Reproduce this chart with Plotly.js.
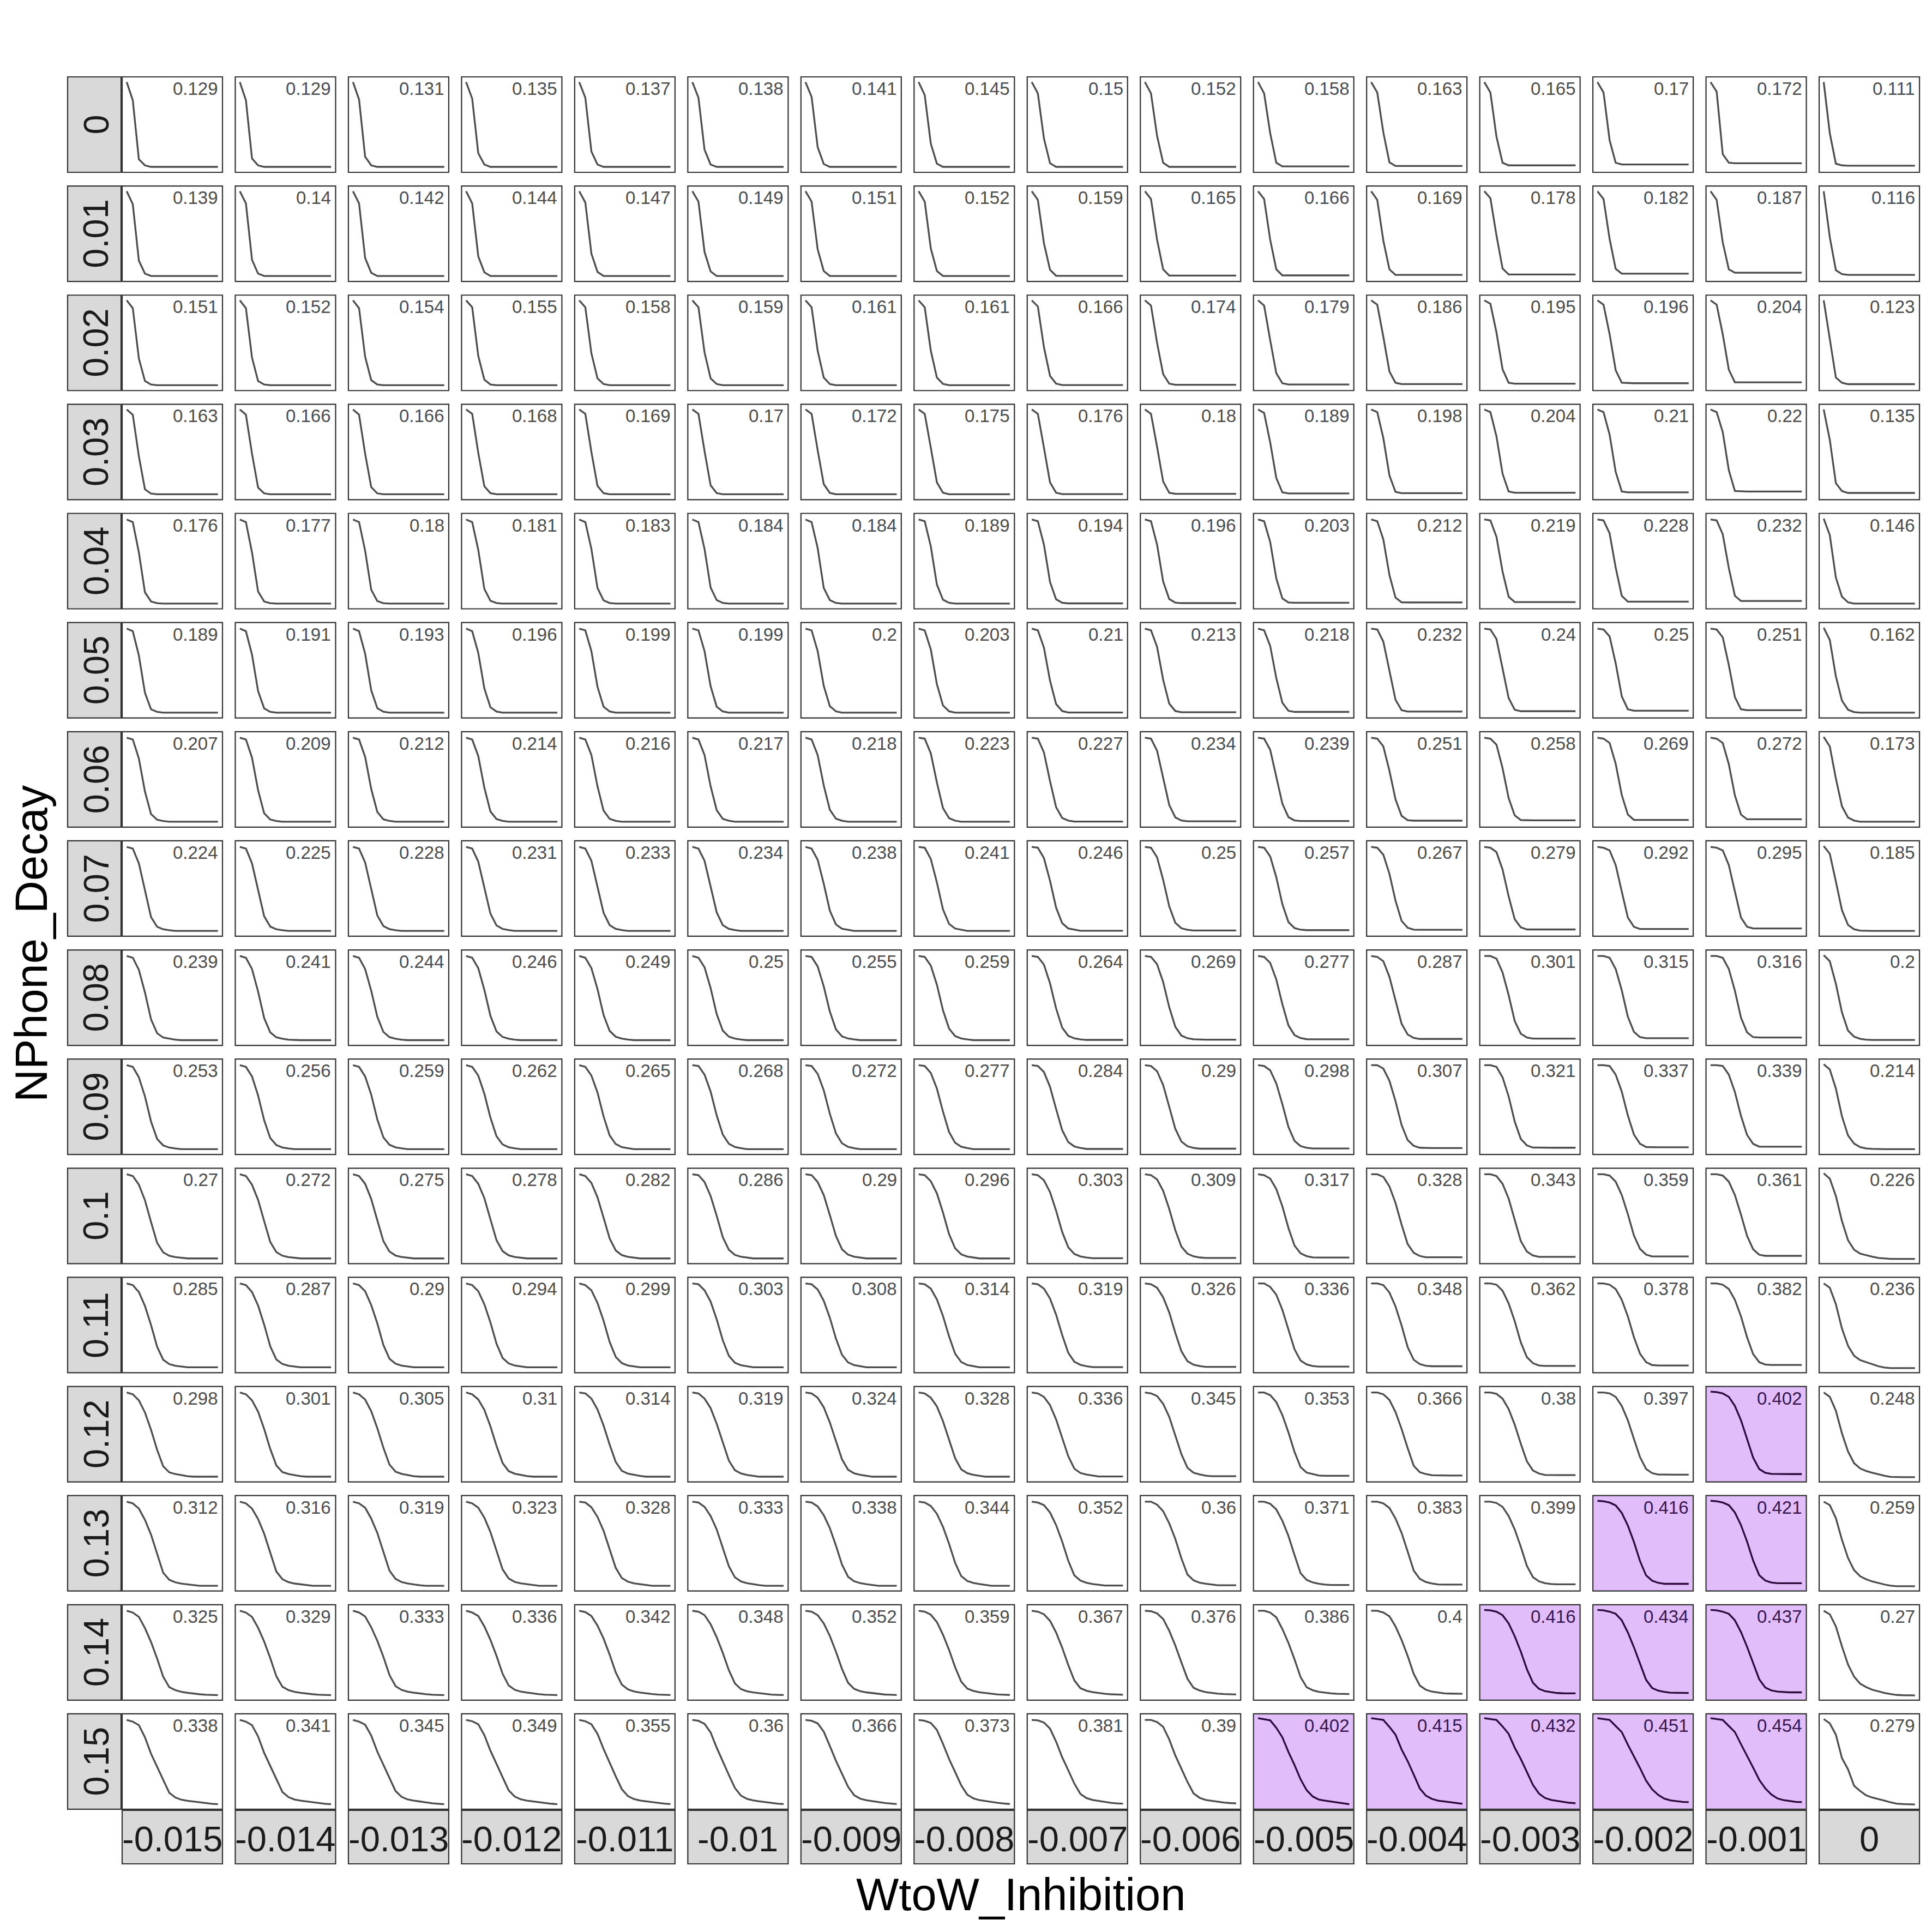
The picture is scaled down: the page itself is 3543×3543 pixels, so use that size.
<!DOCTYPE html>
<html><head><meta charset="utf-8">
<script src="https://cdn.plot.ly/plotly-3.0.1.min.js"></script>
<style>html,body{margin:0;padding:0;background:#fff}#chart{width:3543px;height:3543px}</style>
</head><body><div id="chart"></div>
<script>
// time steps along each small curve
const steps = [0,1,2,3,4,5,6,7,8,9,10,11,12,13,14,15];
// column facets (bottom strips)
const wtowInhibition = ["-0.015","-0.014","-0.013","-0.012","-0.011","-0.01","-0.009","-0.008","-0.007","-0.006","-0.005","-0.004","-0.003","-0.002","-0.001","0"];
// row facets (left strips)
const nphoneDecay = ["0","0.01","0.02","0.03","0.04","0.05","0.06","0.07","0.08","0.09","0.1","0.11","0.12","0.13","0.14","0.15"];
// number printed in each panel (rows = NPhone_Decay, cols = WtoW_Inhibition)
const panelMeans = [
[0.129,0.129,0.131,0.135,0.137,0.138,0.141,0.145,0.15,0.152,0.158,0.163,0.165,0.17,0.172,0.111],
[0.139,0.14,0.142,0.144,0.147,0.149,0.151,0.152,0.159,0.165,0.166,0.169,0.178,0.182,0.187,0.116],
[0.151,0.152,0.154,0.155,0.158,0.159,0.161,0.161,0.166,0.174,0.179,0.186,0.195,0.196,0.204,0.123],
[0.163,0.166,0.166,0.168,0.169,0.17,0.172,0.175,0.176,0.18,0.189,0.198,0.204,0.21,0.22,0.135],
[0.176,0.177,0.18,0.181,0.183,0.184,0.184,0.189,0.194,0.196,0.203,0.212,0.219,0.228,0.232,0.146],
[0.189,0.191,0.193,0.196,0.199,0.199,0.2,0.203,0.21,0.213,0.218,0.232,0.24,0.25,0.251,0.162],
[0.207,0.209,0.212,0.214,0.216,0.217,0.218,0.223,0.227,0.234,0.239,0.251,0.258,0.269,0.272,0.173],
[0.224,0.225,0.228,0.231,0.233,0.234,0.238,0.241,0.246,0.25,0.257,0.267,0.279,0.292,0.295,0.185],
[0.239,0.241,0.244,0.246,0.249,0.25,0.255,0.259,0.264,0.269,0.277,0.287,0.301,0.315,0.316,0.2],
[0.253,0.256,0.259,0.262,0.265,0.268,0.272,0.277,0.284,0.29,0.298,0.307,0.321,0.337,0.339,0.214],
[0.27,0.272,0.275,0.278,0.282,0.286,0.29,0.296,0.303,0.309,0.317,0.328,0.343,0.359,0.361,0.226],
[0.285,0.287,0.29,0.294,0.299,0.303,0.308,0.314,0.319,0.326,0.336,0.348,0.362,0.378,0.382,0.236],
[0.298,0.301,0.305,0.31,0.314,0.319,0.324,0.328,0.336,0.345,0.353,0.366,0.38,0.397,0.402,0.248],
[0.312,0.316,0.319,0.323,0.328,0.333,0.338,0.344,0.352,0.36,0.371,0.383,0.399,0.416,0.421,0.259],
[0.325,0.329,0.333,0.336,0.342,0.348,0.352,0.359,0.367,0.376,0.386,0.4,0.416,0.434,0.437,0.27],
[0.338,0.341,0.345,0.349,0.355,0.36,0.366,0.373,0.381,0.39,0.402,0.415,0.432,0.451,0.454,0.279]
];
// curve values (percent) read per panel, one array per NPhone_Decay row
const curvesDecay000 = [
[99,78,10,3,1.3,1.3,1.3,1.3,1.3,1.3,1.3,1.3,1.3,1.3,1.3,1.3],
[99,78,11,3,1.3,1.3,1.3,1.3,1.3,1.3,1.3,1.3,1.3,1.3,1.3,1.3],
[99,79,13,3,1.3,1.3,1.3,1.3,1.3,1.3,1.3,1.3,1.3,1.3,1.3,1.3],
[99,80,17,4,1.3,1.3,1.3,1.3,1.3,1.3,1.3,1.3,1.3,1.3,1.3,1.3],
[99,81,19,4,1.3,1.3,1.3,1.3,1.3,1.3,1.3,1.3,1.3,1.3,1.3,1.3],
[99,81,21,4,1.3,1.3,1.3,1.3,1.3,1.3,1.3,1.3,1.3,1.3,1.3,1.3],
[99,82,24,4.5,1.3,1.3,1.3,1.3,1.3,1.3,1.3,1.3,1.3,1.3,1.3,1.3],
[99,84,28,5,1.3,1.3,1.3,1.3,1.3,1.3,1.3,1.3,1.3,1.3,1.3,1.3],
[99,86,34,5.5,1.3,1.3,1.3,1.3,1.3,1.3,1.3,1.3,1.3,1.3,1.3,1.3],
[99,86,37,6,1.3,1.3,1.3,1.3,1.3,1.3,1.3,1.3,1.3,1.3,1.3,1.3],
[99,86,40,6,1.8,1.8,1.8,1.8,1.8,1.8,1.8,1.8,1.8,1.8,1.8,1.8],
[99,87,41,6.5,2.3,2.3,2.3,2.3,2.3,2.3,2.3,2.3,2.3,2.3,2.3,2.3],
[99,87,36,6,3,3,3,3,3,3,3,3,3,3,3,3],
[99,87,32,6,4,4,4,4,4,4,4,4,4,4,4,4],
[99,88,16,6,5.5,5.5,5.5,5.5,5.5,5.5,5.5,5.5,5.5,5.5,5.5,5.5],
[99,40,5,3,2.6,2.6,2.6,2.6,2.6,2.6,2.6,2.6,2.6,2.6,2.6,2.6]
];
const curvesDecay001 = [
[99,84,19,4,1.3,1.3,1.3,1.3,1.3,1.3,1.3,1.3,1.3,1.3,1.3,1.3],
[99,85,20,4,1.3,1.3,1.3,1.3,1.3,1.3,1.3,1.3,1.3,1.3,1.3,1.3],
[99,85,22,5,1.3,1.3,1.3,1.3,1.3,1.3,1.3,1.3,1.3,1.3,1.3,1.3],
[99,85,24,5.5,1.3,1.3,1.3,1.3,1.3,1.3,1.3,1.3,1.3,1.3,1.3,1.3],
[99,86,27,6,1.3,1.3,1.3,1.3,1.3,1.3,1.3,1.3,1.3,1.3,1.3,1.3],
[99,87,29,6.5,1.3,1.3,1.3,1.3,1.3,1.3,1.3,1.3,1.3,1.3,1.3,1.3],
[99,87,32,7,1.3,1.3,1.3,1.3,1.3,1.3,1.3,1.3,1.3,1.3,1.3,1.3],
[99,87,33,7,1.3,1.3,1.3,1.3,1.3,1.3,1.3,1.3,1.3,1.3,1.3,1.3],
[99,89,39,8.5,1.5,1.5,1.5,1.5,1.5,1.5,1.5,1.5,1.5,1.5,1.5,1.5],
[99,90,43,9,1.8,1.8,1.8,1.8,1.8,1.8,1.8,1.8,1.8,1.8,1.8,1.8],
[99,90,43,9,2,2,2,2,2,2,2,2,2,2,2,2],
[99,89,42,9,2.5,2.5,2.5,2.5,2.5,2.5,2.5,2.5,2.5,2.5,2.5,2.5],
[99,91,48,10,3,3,3,3,3,3,3,3,3,3,3,3],
[99,90,44,9.5,4,4,4,4,4,4,4,4,4,4,4,4],
[99,89,40,9,5,5,5,5,5,5,5,5,5,5,5,5],
[99,46,8,3.5,2.5,2.5,2.5,2.5,2.5,2.5,2.5,2.5,2.5,2.5,2.5,2.5]
];
const curvesDecay002 = [
[99,90,32,6,2,1.2,1.2,1.2,1.2,1.2,1.2,1.2,1.2,1.2,1.2,1.2],
[99,90,33,6,2,1.2,1.2,1.2,1.2,1.2,1.2,1.2,1.2,1.2,1.2,1.2],
[99,90,34,7,2,1.2,1.2,1.2,1.2,1.2,1.2,1.2,1.2,1.2,1.2,1.2],
[99,91,35,7.5,2,1.2,1.2,1.2,1.2,1.2,1.2,1.2,1.2,1.2,1.2,1.2],
[99,91,38,9,2.5,1.2,1.2,1.2,1.2,1.2,1.2,1.2,1.2,1.2,1.2,1.2],
[99,91,39,9,2.5,1.2,1.2,1.2,1.2,1.2,1.2,1.2,1.2,1.2,1.2,1.2],
[99,91,41,10,2.5,1.2,1.2,1.2,1.2,1.2,1.2,1.2,1.2,1.2,1.2,1.2],
[99,91,41,10,2.7,1.2,1.2,1.2,1.2,1.2,1.2,1.2,1.2,1.2,1.2,1.2],
[99,92,45,12,3,1.4,1.4,1.4,1.4,1.4,1.4,1.4,1.4,1.4,1.4,1.4],
[99,93,50,14,3,1.7,1.7,1.7,1.7,1.7,1.7,1.7,1.7,1.7,1.7,1.7],
[99,93,53,15,3.5,2,2,2,2,2,2,2,2,2,2,2],
[99,94,57,17,4,2.5,2.5,2.5,2.5,2.5,2.5,2.5,2.5,2.5,2.5,2.5],
[99,95,62,19.5,4,3,3,3,3,3,3,3,3,3,3,3],
[99,94,60,18.5,4,3.5,3.5,3.5,3.5,3.5,3.5,3.5,3.5,3.5,3.5,3.5],
[99,94,60,19,4.5,4.5,4.5,4.5,4.5,4.5,4.5,4.5,4.5,4.5,4.5,4.5],
[99,55,10,4,2.4,2.4,2.4,2.4,2.4,2.4,2.4,2.4,2.4,2.4,2.4,2.4]
];
const curvesDecay003 = [
[99,93,45,7,2,1.3,1.3,1.3,1.3,1.3,1.3,1.3,1.3,1.3,1.3,1.3],
[99,93,48,9,2.3,1.3,1.3,1.3,1.3,1.3,1.3,1.3,1.3,1.3,1.3,1.3],
[99,93,48,9.5,2.3,1.3,1.3,1.3,1.3,1.3,1.3,1.3,1.3,1.3,1.3,1.3],
[99,94,49,10.5,2.5,1.3,1.3,1.3,1.3,1.3,1.3,1.3,1.3,1.3,1.3,1.3],
[99,94,50,11,2.5,1.3,1.3,1.3,1.3,1.3,1.3,1.3,1.3,1.3,1.3,1.3],
[99,94,51,11.5,2.6,1.3,1.3,1.3,1.3,1.3,1.3,1.3,1.3,1.3,1.3,1.3],
[99,94,52,13,2.8,1.3,1.3,1.3,1.3,1.3,1.3,1.3,1.3,1.3,1.3,1.3],
[99,94,55,15,3,1.3,1.3,1.3,1.3,1.3,1.3,1.3,1.3,1.3,1.3,1.3],
[99,94,55,15,3,1.5,1.5,1.5,1.5,1.5,1.5,1.5,1.5,1.5,1.5,1.5],
[99,94,56,16,3,1.8,1.8,1.8,1.8,1.8,1.8,1.8,1.8,1.8,1.8,1.8],
[99,95,61,20,3.5,2.2,2.2,2.2,2.2,2.2,2.2,2.2,2.2,2.2,2.2,2.2],
[99,96,66,23,4,2.6,2.6,2.6,2.6,2.6,2.6,2.6,2.6,2.6,2.6,2.6],
[99,96,68,25,4.5,3,3,3,3,3,3,3,3,3,3,3],
[99,96,70,27,4.5,3.5,3.5,3.5,3.5,3.5,3.5,3.5,3.5,3.5,3.5,3.5],
[99,96,73,29,5,4.5,4.5,4.5,4.5,4.5,4.5,4.5,4.5,4.5,4.5,4.5],
[99,64,14,5,2.8,2.8,2.8,2.8,2.8,2.8,2.8,2.8,2.8,2.8,2.8,2.8]
];
const curvesDecay004 = [
[98,95,60,14,3.5,1.5,1,1,1,1,1,1,1,1,1,1],
[98,95,60,15,3.5,1.5,1,1,1,1,1,1,1,1,1,1],
[98,95,62,17,4,1.6,1,1,1,1,1,1,1,1,1,1],
[98,95,63,18,4.3,1.7,1,1,1,1,1,1,1,1,1,1],
[98,95,64,19,4.7,1.7,1,1,1,1,1,1,1,1,1,1],
[98,95,64,19.5,5,1.8,1,1,1,1,1,1,1,1,1,1],
[98,95,65,19,5,1.8,1,1,1,1,1,1,1,1,1,1],
[98,96,67,23,5.5,2,1,1,1,1,1,1,1,1,1,1],
[98,96,69,26,6,2,1.3,1.3,1.3,1.3,1.3,1.3,1.3,1.3,1.3,1.3],
[98,96,69,26.5,6.3,2.2,1.6,1.6,1.6,1.6,1.6,1.6,1.6,1.6,1.6,1.6],
[98,96,72,30,7,2.3,2,2,2,2,2,2,2,2,2,2],
[98,96,75,34,8,2.5,2.4,2.4,2.4,2.4,2.4,2.4,2.4,2.4,2.4,2.4],
[98,97,78,38,9,2.8,2.8,2.8,2.8,2.8,2.8,2.8,2.8,2.8,2.8,2.8],
[98,97,82,42.5,10,3.3,3.3,3.3,3.3,3.3,3.3,3.3,3.3,3.3,3.3,3.3],
[98,97,81,42,10,4,4,4,4,4,4,4,4,4,4,4],
[99,80,31,9,2.5,1,1,1,1,1,1,1,1,1,1,1]
];
const curvesDecay005 = [
[98,95,67,24,5,2,1.1,1.1,1.1,1.1,1.1,1.1,1.1,1.1,1.1,1.1],
[98,95,68,26,6,2,1.1,1.1,1.1,1.1,1.1,1.1,1.1,1.1,1.1,1.1],
[98,95,69,27,6.3,2.2,1.1,1.1,1.1,1.1,1.1,1.1,1.1,1.1,1.1,1.1],
[98,95,70,29,7.3,2.4,1.1,1.1,1.1,1.1,1.1,1.1,1.1,1.1,1.1,1.1],
[98,96,72,31,8,2.5,1.1,1.1,1.1,1.1,1.1,1.1,1.1,1.1,1.1,1.1],
[98,96,72,31.5,8,2.5,1.1,1.1,1.1,1.1,1.1,1.1,1.1,1.1,1.1,1.1],
[98,96,72,32,8.6,2.6,1.1,1.1,1.1,1.1,1.1,1.1,1.1,1.1,1.1,1.1],
[98,96,74,34,9.5,2.7,1.1,1.1,1.1,1.1,1.1,1.1,1.1,1.1,1.1,1.1],
[98,96,76,38,11,3,1.3,1.3,1.3,1.3,1.3,1.3,1.3,1.3,1.3,1.3],
[98,96,77,39,11.5,3,1.6,1.6,1.6,1.6,1.6,1.6,1.6,1.6,1.6,1.6],
[98,96,78,41,12.5,3.2,2,2,2,2,2,2,2,2,2,2],
[98,97,83,49,16,4,2.4,2.4,2.4,2.4,2.4,2.4,2.4,2.4,2.4,2.4],
[98,97,86,53,18,4.5,2.8,2.8,2.8,2.8,2.8,2.8,2.8,2.8,2.8,2.8],
[98,97,89,58,20,5,3.3,3.3,3.3,3.3,3.3,3.3,3.3,3.3,3.3,3.3],
[98,97,88,56,19,5,4,4,4,4,4,4,4,4,4,4],
[99,85,43,15,4.5,1.8,1.1,1.1,1.1,1.1,1.1,1.1,1.1,1.1,1.1,1.1]
];
const curvesDecay006 = [
[98,96,74,36,10,3.5,2,1.2,1.2,1.2,1.2,1.2,1.2,1.2,1.2,1.2],
[98,96,75,37.5,11,3.8,2,1.2,1.2,1.2,1.2,1.2,1.2,1.2,1.2,1.2],
[98,96,76,39,12.5,4,2.1,1.2,1.2,1.2,1.2,1.2,1.2,1.2,1.2,1.2],
[98,96,77,40.5,13,4.3,2.2,1.2,1.2,1.2,1.2,1.2,1.2,1.2,1.2,1.2],
[98,96,78,42,14,4.5,2.2,1.2,1.2,1.2,1.2,1.2,1.2,1.2,1.2,1.2],
[98,96,78,42,14.5,4.5,2.3,1.2,1.2,1.2,1.2,1.2,1.2,1.2,1.2,1.2],
[98,96,78,43,15,4.7,2.3,1.2,1.2,1.2,1.2,1.2,1.2,1.2,1.2,1.2],
[98,97,80,46.5,17,5.3,2.4,1.2,1.2,1.2,1.2,1.2,1.2,1.2,1.2,1.2],
[98,97,81,48,18,5.6,2.5,1.4,1.4,1.4,1.4,1.4,1.4,1.4,1.4,1.4],
[98,97,83,51.5,20.5,6.2,2.6,1.7,1.7,1.7,1.7,1.7,1.7,1.7,1.7,1.7],
[98,97,84,53,22,6.5,2.7,2,2,2,2,2,2,2,2,2],
[98,97,88,60,27,8,3,2.4,2.4,2.4,2.4,2.4,2.4,2.4,2.4,2.4],
[98,97,90,63,28.5,8.5,3.1,2.8,2.8,2.8,2.8,2.8,2.8,2.8,2.8,2.8],
[98,97,92,68,32,9.5,3.3,3.3,3.3,3.3,3.3,3.3,3.3,3.3,3.3,3.3],
[98,97,92,67.5,31.5,9.4,4,4,4,4,4,4,4,4,4,4],
[99,88,51,19,6,2.5,1.2,1.2,1.2,1.2,1.2,1.2,1.2,1.2,1.2,1.2]
];
const curvesDecay007 = [
[98,96,79,48,17,6,3,2,1.1,1.1,1.1,1.1,1.1,1.1,1.1,1.1],
[98,96,79,49,18,6.2,3,2,1.1,1.1,1.1,1.1,1.1,1.1,1.1,1.1],
[98,96,80,50,19,6.8,3.2,2,1.1,1.1,1.1,1.1,1.1,1.1,1.1,1.1],
[98,96,81,52,21,7.4,3.4,2.1,1.1,1.1,1.1,1.1,1.1,1.1,1.1,1.1],
[98,96,82,53,22,7.8,3.5,2.1,1.1,1.1,1.1,1.1,1.1,1.1,1.1,1.1],
[98,96,82,53,22.5,7.8,3.5,2.1,1.1,1.1,1.1,1.1,1.1,1.1,1.1,1.1],
[98,96,83,55.5,24.5,8.6,3.7,2.2,1.1,1.1,1.1,1.1,1.1,1.1,1.1,1.1],
[98,97,84,57,26,9.2,3.9,2.3,1.1,1.1,1.1,1.1,1.1,1.1,1.1,1.1],
[98,97,85,59,28,10,4,2.4,1.3,1.3,1.3,1.3,1.3,1.3,1.3,1.3],
[98,97,86,60,29.5,10.5,4.2,2.4,1.6,1.6,1.6,1.6,1.6,1.6,1.6,1.6],
[98,97,87,63,32,11.3,4.4,2.5,2,2,2,2,2,2,2,2],
[98,97,89,67,36,12.7,4.8,2.6,2.4,2.4,2.4,2.4,2.4,2.4,2.4,2.4],
[98,97,92,72,41,14.6,5.3,2.8,2.8,2.8,2.8,2.8,2.8,2.8,2.8,2.8],
[98,97,94,77,46.5,16.5,5.9,3.3,3.3,3.3,3.3,3.3,3.3,3.3,3.3,3.3],
[98,97,94,77,46.5,16.5,5.9,4,4,4,4,4,4,4,4,4],
[99,90,58,25,8,3,1.5,1.2,1.2,1.2,1.2,1.2,1.2,1.2,1.2,1.2]
];
const curvesDecay008 = [
[98,96,82,56,25,9,4,2.5,1.5,1,1,1,1,1,1,1],
[98,96,83,57,26.5,10,4.3,2.6,1.5,1,1,1,1,1,1,1],
[98,96,83,58,28,10.5,4.5,2.6,1.6,1,1,1,1,1,1,1],
[98,96,84,59,29,11,4.7,2.7,1.6,1,1,1,1,1,1,1],
[98,96,84,60,30,11.7,4.9,2.8,1.7,1,1,1,1,1,1,1],
[98,96,85,61,31,12,5,2.8,1.7,1,1,1,1,1,1,1],
[98,97,86,63,34,13.5,5.4,2.9,1.8,1,1,1,1,1,1,1],
[98,97,87,65,35.5,14.4,5.7,3,1.8,1,1,1,1,1,1,1],
[98,97,88,66.5,37.5,15.4,6,3.1,1.9,1.3,1.3,1.3,1.3,1.3,1.3,1.3],
[98,97,88.5,68,39,16.4,6.3,3.2,2,1.6,1.6,1.6,1.6,1.6,1.6,1.6],
[98,97,90,71,42.5,18,6.9,3.4,2.1,2,2,2,2,2,2,2],
[98,97,92,74,47,20,7.5,3.6,2.4,2.4,2.4,2.4,2.4,2.4,2.4,2.4],
[98,98,95,79,53,23,8.5,4,2.8,2.8,2.8,2.8,2.8,2.8,2.8,2.8],
[98,98,96,83,58.5,28,10.6,4.5,3.3,3.3,3.3,3.3,3.3,3.3,3.3,3.3],
[98,98,96,83,58,27,10,4.5,4,4,4,4,4,4,4,4],
[99,92,66,33,12,5,2.5,1.5,1.2,1.2,1.2,1.2,1.2,1.2,1.2,1.2]
];
const curvesDecay009 = [
[98,96,84,62,33,13,5.5,3,2,1.2,1.2,1.2,1.2,1.2,1.2,1.2],
[98,96,85,63,34.5,14,5.9,3.1,2,1.2,1.2,1.2,1.2,1.2,1.2,1.2],
[98,96,85,64,35.5,14.8,6.2,3.2,2.1,1.2,1.2,1.2,1.2,1.2,1.2,1.2],
[98,96,86,65,37.5,16,6.6,3.4,2.1,1.2,1.2,1.2,1.2,1.2,1.2,1.2],
[98,96,86,66.5,39,17,7,3.5,2.2,1.2,1.2,1.2,1.2,1.2,1.2,1.2],
[98,97,87,67.5,40,18,7.4,3.6,2.2,1.2,1.2,1.2,1.2,1.2,1.2,1.2],
[98,97,88,69,42,19.4,7.9,3.8,2.3,1.2,1.2,1.2,1.2,1.2,1.2,1.2],
[98,97,89,71,44.5,21,8.5,4,2.4,1.2,1.2,1.2,1.2,1.2,1.2,1.2],
[98,97,90,73,47.5,23,9.3,4.3,2.5,1.4,1.4,1.4,1.4,1.4,1.4,1.4],
[98,97,91,75,50,24.6,9.9,4.5,2.6,1.7,1.7,1.7,1.7,1.7,1.7,1.7],
[98,97,92,77,53,26.8,10.7,4.7,2.7,2,2,2,2,2,2,2],
[98,98,94,80,56.5,29,11.6,5,2.8,2.4,2.4,2.4,2.4,2.4,2.4,2.4],
[98,98,96,84,62,33,13,5.5,3,2.8,2.8,2.8,2.8,2.8,2.8,2.8],
[98,98,97,87,67.5,40,18,7.4,3.6,3.3,3.3,3.3,3.3,3.3,3.3,3.3],
[98,98,97,87,67,39.5,17.5,7.3,4,4,4,4,4,4,4,4],
[99,93,71,39,17,7.5,3.5,2,1.5,1.2,1.2,1.2,1.2,1.2,1.2,1.2]
];
const curvesDecay010 = [
[98,96,86,68,43,19,8,4,2.5,1.5,1,1,1,1,1,1],
[98,96,86,68.5,44,20,8.3,4.1,2.5,1.5,1,1,1,1,1,1],
[98,96,87,69.5,45,21,8.9,4.3,2.6,1.6,1,1,1,1,1,1],
[98,96,87,70.5,46,22,9.4,4.5,2.7,1.6,1,1,1,1,1,1],
[98,96,88,71.5,48,24,10.2,4.8,2.8,1.7,1,1,1,1,1,1],
[98,97,89,73,50,25.5,11,5.1,2.9,1.8,1,1,1,1,1,1],
[98,97,89,74,51,27,11.6,5.3,3,1.8,1,1,1,1,1,1],
[98,97,90,76,54,29,12.7,5.7,3.1,1.9,1,1,1,1,1,1],
[98,97,91,77.5,56,31.5,13.8,6.1,3.3,2,1.3,1.3,1.3,1.3,1.3,1.3],
[98,97,92,79,58,33.5,14.6,6.4,3.4,2.1,1.6,1.6,1.6,1.6,1.6,1.6],
[98,97,93,81,61,36,15.8,6.8,3.6,2.2,2,2,2,2,2,2],
[98,98,95,84,65,40,17.5,7.5,3.8,2.4,2.4,2.4,2.4,2.4,2.4,2.4],
[98,98,96,87,70,45,21,8.9,4.4,2.8,2.8,2.8,2.8,2.8,2.8,2.8],
[98,98,96.5,89.5,74,52,27.5,12,5.4,3.3,3.3,3.3,3.3,3.3,3.3,3.3],
[98,98,96.5,89.5,74,51.5,27,11.5,5.2,4,4,4,4,4,4,4],
[99,93,73,44,22,11,6.5,4.5,3,1.5,0.8,0.5,0.5,0.5,0.5,0.5]
];
const curvesDecay011 = [
[98,96,88,72,50,25,10,5,3,2,1.3,1.3,1.3,1.3,1.3,1.3],
[98,96,88,72.5,50.5,25.5,10.3,5.1,3,2,1.3,1.3,1.3,1.3,1.3,1.3],
[98,96,89,73,52,27,11.2,5.4,3.2,2.1,1.3,1.3,1.3,1.3,1.3,1.3],
[98,96,89,74,53,28.5,12.1,5.7,3.3,2.1,1.3,1.3,1.3,1.3,1.3,1.3],
[98,96,90,75.5,55,30.5,13.3,6.1,3.4,2.2,1.3,1.3,1.3,1.3,1.3,1.3],
[98,97,90,77,56.5,32.5,14.5,6.5,3.6,2.3,1.3,1.3,1.3,1.3,1.3,1.3],
[98,97,91,78,58.5,34.5,15.7,6.9,3.8,2.4,1.3,1.3,1.3,1.3,1.3,1.3],
[98,97,92,79.5,60.5,37,17,7.4,3.9,2.5,1.3,1.3,1.3,1.3,1.3,1.3],
[98,97,92,80.5,62,38.5,18,7.7,4.1,2.5,1.5,1.5,1.5,1.5,1.5,1.5],
[98,97,93,82,64.5,41,19.8,8.3,4.3,2.7,1.8,1.8,1.8,1.8,1.8,1.8],
[98,98,94,85,67.5,45,22,9,4.6,2.8,2.1,2.1,2.1,2.1,2.1,2.1],
[98,98,96,87.5,71.5,49.5,24.5,9.9,5,3,2.5,2.5,2.5,2.5,2.5,2.5],
[98,98,96.5,89.5,75,54.5,30,13,6,3.4,2.9,2.9,2.9,2.9,2.9,2.9],
[98,98,96.5,91.5,79,60,36,17,7.3,3.9,3.4,3.4,3.4,3.4,3.4,3.4],
[98,98,96.5,91.5,79,60,36,16.5,7.2,4.5,4,4,4,4,4,4],
[98,93,74,46,26,14.5,9.5,7,5,2.5,1,0.4,0.4,0.4,0.4,0.4]
];
const curvesDecay012 = [
[98,96,89,75,55,32,13,6,4,2.5,1.5,1,1,1,1,1],
[98,96,89,76,56,33,14,6.3,4.1,2.6,1.5,1,1,1,1,1],
[98,96,90,76.5,57,34.5,15,6.8,4.2,2.7,1.6,1,1,1,1,1],
[98,96,90,78,59,36.5,16.8,7.4,4.4,2.8,1.7,1,1,1,1,1],
[98,97,91,78.5,60,38,18,7.8,4.5,2.9,1.8,1,1,1,1,1],
[98,97,91,80,62,40,19.5,8.4,4.7,3,1.8,1,1,1,1,1],
[98,97,92,81,63.5,41.5,21,9,4.8,3.1,1.9,1,1,1,1,1],
[98,97,92,82,65,43,22.3,9.4,5,3.2,2,1,1,1,1,1],
[98,97,93,83.5,67,46,24.6,10.3,5.2,3.4,2.1,1.3,1.3,1.3,1.3,1.3],
[98,97,94,85,70,49,27,11.2,5.5,3.6,2.2,1.6,1.6,1.6,1.6,1.6],
[98,98,95,87,72,52,29.5,12,5.7,3.8,2.4,2,2,2,2,2],
[98,98,96,89.5,75.5,56,34,13.5,6.1,4,2.6,2.4,2.4,2.4,2.4,2.4],
[98,98,96.5,91,79,61,39,18.7,8.1,4.6,3,2.8,2.8,2.8,2.8,2.8],
[98,98,97,93,82.5,66,44.5,23.5,9.9,5.1,3.5,3.3,3.3,3.3,3.3,3.3],
[99,98.5,97,93,82.5,66,44.5,23,9.8,5.5,4.2,4,4,4,4,4],
[98,93,77,51,30,16.5,10.5,7.5,5.5,3.5,2,0.8,0.5,0.5,0.5,0.5]
];
const curvesDecay013 = [
[98,96,90,77,60,38,16,8,5,3.5,2.5,1.5,1,1,1,1],
[98,96,90,78,61,39.5,17.5,8.6,5.2,3.6,2.6,1.6,1,1,1,1],
[98,96,91,78.5,62,40.5,18.5,8.9,5.3,3.7,2.6,1.6,1,1,1,1],
[98,96,91,79.5,63,42,20,9.4,5.5,3.8,2.7,1.7,1,1,1,1],
[98,97,91.5,80.5,64.5,43.5,21.7,10,5.8,3.9,2.8,1.8,1,1,1,1],
[98,97,92,81.5,66,45.5,23.5,10.7,6,4,2.8,1.8,1,1,1,1],
[98,97,92.5,82.5,67.5,47.5,25.5,11.4,6.3,4.1,2.9,1.9,1,1,1,1],
[98,97,93,84,69,49.5,27.5,12.2,6.6,4.3,3,2,1,1,1,1],
[98,97,94,85.5,71,52,30,13.1,7,4.5,3.1,2.1,1.3,1.3,1.3,1.3],
[98,98,94.5,87,73,55,32.7,14,7.3,4.6,3.3,2.3,1.6,1.6,1.6,1.6],
[98,98,95.5,89,76,58.5,36.5,15.4,7.8,4.9,3.4,2.4,2,2,2,2],
[98,98,96,90.7,78.6,62,40.6,18.6,9,5.4,3.7,2.6,2.4,2.4,2.4,2.4],
[98,98,96.5,92,81.5,66,46,24,10.9,6.1,4,3,2.8,2.8,2.8,2.8],
[99,98.5,97,93.7,85,70.5,51.5,29.5,13,6.9,4.4,3.3,3.3,3.3,3.3,3.3],
[99,98.5,97,94,85.5,71,52,30,13.2,7,4.8,4,4,4,4,4],
[98,94,79,54,33,19,12,8.5,6,4,2.5,1.2,0.6,0.6,0.6,0.6]
];
const curvesDecay014 = [
[98,96,91,78,62,43,22,10,6.5,4.5,3.5,2.5,1.8,1.2,1,0.8],
[98,96,91,78.5,62.5,43.5,22.6,10.4,6.6,4.6,3.5,2.5,1.8,1.2,1,0.8],
[98,96,91.5,79,63.5,45,24,11.2,6.8,4.7,3.6,2.6,1.9,1.3,1,0.8],
[98,96,92,80,64.5,46,25.4,11.9,7,4.8,3.7,2.7,1.9,1.3,1,0.8],
[98,96.5,92,81,66,47.5,27,13,7.4,5,3.8,2.8,2,1.4,1.1,0.9],
[98,97,93,82.5,67.5,49.5,29.5,14.2,7.7,5.2,3.9,2.9,2,1.4,1.1,0.9],
[98,97,93,83.5,69,51,31,15,8,5.3,4,3,2.1,1.5,1.2,0.9],
[98,97,93.5,85,70.5,53,33,16.4,8.4,5.6,4.1,3.1,2.2,1.6,1.3,1],
[98,97,94,86.5,73,55.5,35.5,17.8,8.8,5.8,4.2,3.2,2.3,1.8,1.5,1.3],
[98,97.5,95,88.5,75,58,38.5,19.6,9.3,6.1,4.3,3.3,2.5,2,1.7,1.6],
[98,98,96,90.5,77,61,42,21.5,9.8,6.4,4.5,3.5,2.8,2.3,2.1,2],
[98,98,96,91.7,80,64.4,46,25.2,11.8,7,4.8,3.6,2.8,2.6,2.5,2.4],
[99,98.5,97,93,83.5,68.7,51,30.8,15,8,5.3,4,3.2,2.9,2.8,2.8],
[99,98.5,97,94.5,87,73,56,36.5,18.4,9,5.9,4.5,3.6,3.4,3.3,3.3],
[99,98.5,97,94.5,87,73.5,56.5,37,19,9.5,6.2,4.8,4.2,4,4,4],
[98,94,80,57,36,22,14,10,7,5,3.3,2,1,0.7,0.5,0.5]
];
const curvesDecay015 = [
[98,96,92,78,59,44,28.5,14,8.6,6,4.8,3.8,2.8,1.9,1.3,0.8],
[98,96,92,79,60,45,29.5,15,9,6.2,4.9,3.9,2.9,2,1.3,0.8],
[98,96,92.5,80,61.5,46,30.5,16,9.3,6.3,5,3.9,2.9,2,1.4,0.9],
[98,96.5,93,80.5,62.5,47,31.5,16.8,9.6,6.5,5,4,3,2.1,1.4,0.9],
[98,96.5,93,82,64.5,48.5,33,18.2,10.2,6.8,5.1,4.1,3.1,2.2,1.5,1],
[98,97,93.5,83.5,66,50,34.5,19.5,10.7,7,5.3,4.2,3.2,2.2,1.5,1],
[98,97,94,84.5,68,51,36,21,11.2,7.2,5.4,4.3,3.3,2.3,1.6,1],
[98,97,94.5,86.5,70.5,53,38,22.7,11.8,7.6,5.5,4.4,3.4,2.4,1.7,1.1],
[98,97.5,95,88,73,55,40,24.6,12.6,7.9,5.7,4.5,3.5,2.5,1.8,1.5],
[98,98,95.5,90,75.5,57,41.8,26.5,13.3,8.2,5.8,4.7,3.7,2.8,2.2,1.8],
[100,99,97.5,89,78,61,46,29.5,17,9.7,6.2,5,4,2.9,1.8,0.8],
[100,99,98,90,81,64,50.5,35,19,10.7,6.9,5,4,2.9,2,1.3],
[100,99,98,90.5,82,66,53,38,23,13,8,5.8,4.5,3.5,2.5,2],
[100,99,98,91,84,69.5,56.5,42.5,28,18,11.5,7.3,5.3,4.3,3.5,3.2],
[100,99,98,91,84,70,57,43,29,19,12,7.5,5.5,4.5,3.5,3.3],
[99,94,81,54,41,22,16,11,8.5,7,5,3,1.5,1,0.7,0.5]
];
const curveRows = [curvesDecay000,curvesDecay001,curvesDecay002,curvesDecay003,curvesDecay004,curvesDecay005,curvesDecay006,curvesDecay007,curvesDecay008,curvesDecay009,curvesDecay010,curvesDecay011,curvesDecay012,curvesDecay013,curvesDecay014,curvesDecay015];

const W = 3543, H = 3543;
const colLeft0 = 224, colPitch = 207.47, panelW = 184;
const rowTop0 = 141, rowPitch = 200.13, panelH = 175;
const stripLeftX0 = 124, stripLeftX1 = 222, stripBotY0 = 3320, stripBotY1 = 3418;
const FONT = "Liberation Sans, Arial, Helvetica, sans-serif";
const HI_FILL = "#e1bdf9", HI_LINE = "#2a0b3c", HI_TEXT = "#3a1650";
const px = v => v / W, py = v => 1 - v / H;

const traces = [];
const layout = {
  width: W, height: H, margin: {l:0, r:0, t:0, b:0},
  paper_bgcolor: "#ffffff", plot_bgcolor: "rgba(0,0,0,0)",
  showlegend: false, shapes: [], annotations: [], font: {family: FONT}
};

for (let r = 0; r < nphoneDecay.length; r++) {
  for (let c = 0; c < wtowInhibition.length; c++) {
    const k = r * wtowInhibition.length + c + 1;
    const xa = k === 1 ? "x" : "x" + k, ya = k === 1 ? "y" : "y" + k;
    const x0 = colLeft0 + c * colPitch, x1 = x0 + panelW;
    const y0 = rowTop0 + r * rowPitch, y1 = y0 + panelH;
    const val = panelMeans[r][c];
    const hi = val > 0.4;
    traces.push({
      type: "scatter", mode: "lines", x: steps, y: curveRows[r][c],
      xaxis: xa, yaxis: ya, hoverinfo: "skip",
      line: {color: hi ? HI_LINE : "#4d4d4d", width: 3.3}
    });
    layout["xaxis" + (k === 1 ? "" : k)] = {domain: [px(x0), px(x1)], range: [-0.75, 15.75], visible: false, anchor: ya, fixedrange: true};
    layout["yaxis" + (k === 1 ? "" : k)] = {domain: [py(y1), py(y0)], range: [-5, 105], visible: false, anchor: xa, fixedrange: true};
    layout.shapes.push({type: "rect", xref: "paper", yref: "paper", x0: px(x0), x1: px(x1), y0: py(y1), y1: py(y0),
      fillcolor: hi ? HI_FILL : "#ffffff", line: {color: "#333333", width: 2.2}, layer: "below"});
    layout.annotations.push({xref: "paper", yref: "paper", x: px(x1 - 6), y: py(y0 + 1), xanchor: "right", yanchor: "top",
      text: String(val), showarrow: false, font: {family: FONT, size: 33, color: hi ? HI_TEXT : "#4d4d4d"}});
  }
}
// left strips (rows)
for (let r = 0; r < nphoneDecay.length; r++) {
  const y0 = rowTop0 + r * rowPitch, y1 = y0 + panelH;
  layout.shapes.push({type: "rect", xref: "paper", yref: "paper", x0: px(stripLeftX0), x1: px(stripLeftX1), y0: py(y1), y1: py(y0),
    fillcolor: "#d9d9d9", line: {color: "#333333", width: 2.2}, layer: "below"});
  layout.annotations.push({xref: "paper", yref: "paper", x: px((stripLeftX0 + stripLeftX1) / 2 + 3), y: py((y0 + y1) / 2),
    xanchor: "center", yanchor: "middle", textangle: -90, text: nphoneDecay[r], showarrow: false,
    font: {family: FONT, size: 65, color: "#1a1a1a"}});
}
// bottom strips (columns)
for (let c = 0; c < wtowInhibition.length; c++) {
  const x0 = colLeft0 + c * colPitch, x1 = x0 + panelW;
  layout.shapes.push({type: "rect", xref: "paper", yref: "paper", x0: px(x0), x1: px(x1), y0: py(stripBotY1), y1: py(stripBotY0),
    fillcolor: "#d9d9d9", line: {color: "#333333", width: 2.2}, layer: "below"});
  layout.annotations.push({xref: "paper", yref: "paper", x: px((x0 + x1) / 2), y: py((stripBotY0 + stripBotY1) / 2 + 3),
    xanchor: "center", yanchor: "middle", text: wtowInhibition[c], showarrow: false,
    font: {family: FONT, size: 65, color: "#1a1a1a"}});
}
// axis titles
layout.annotations.push({xref: "paper", yref: "paper", x: px(1872), y: py(3474), xanchor: "center", yanchor: "middle",
  text: "WtoW_Inhibition", showarrow: false, font: {family: FONT, size: 83, color: "#000000"}});
layout.annotations.push({xref: "paper", yref: "paper", x: px(57), y: py(1730), xanchor: "center", yanchor: "middle",
  textangle: -90, text: "NPhone_Decay", showarrow: false, font: {family: FONT, size: 83, color: "#000000"}});

Plotly.newPlot("chart", traces, layout, {staticPlot: true, displayModeBar: false});
</script></body></html>
